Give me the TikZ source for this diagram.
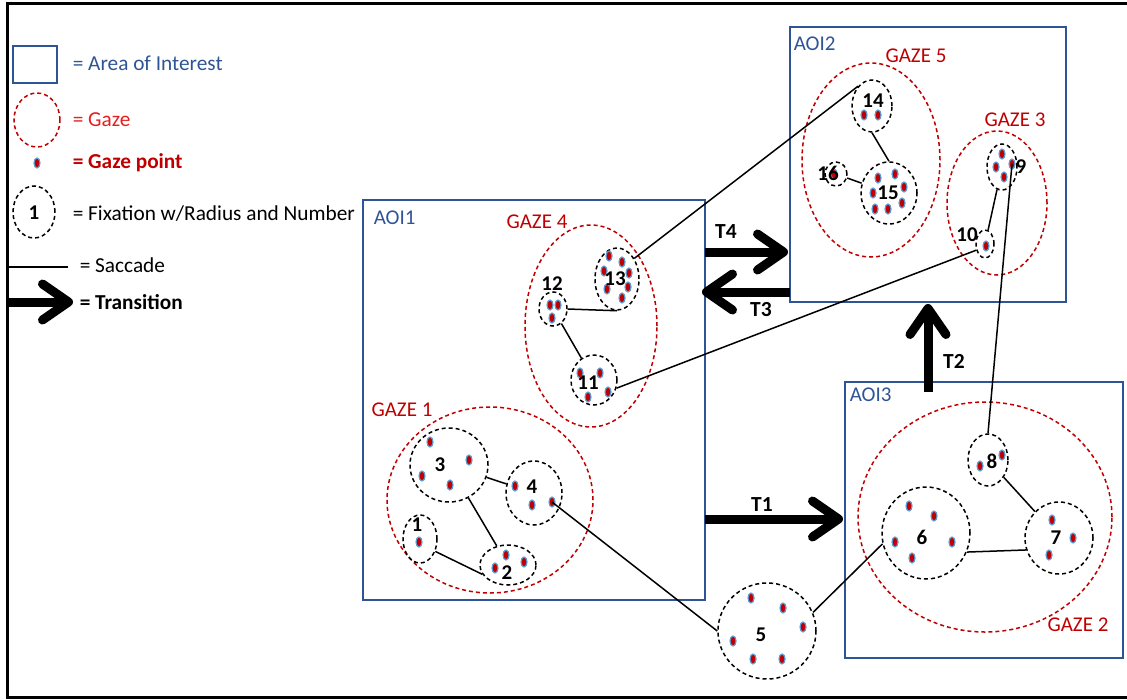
\documentclass[tikz,border=0pt]{standalone}
\usepackage{fontspec}
\setmainfont{Carlito}
\usetikzlibrary{shapes.geometric,arrows.meta}
\definecolor{aoiblue}{RGB}{47,84,150}
\definecolor{gazered}{RGB}{192,0,0}
\definecolor{gazebright}{RGB}{230,30,30}
\definecolor{ptblue}{RGB}{91,155,213}
\begin{document}
\begin{tikzpicture}[x=1pt, y=-1pt, line width=1.5pt,
aoi node/.style={rectangle,draw=aoiblue,line width=2pt,inner sep=0pt},
gaze node/.style={ellipse,draw=gazered,dash pattern=on 4pt off 3pt,inner sep=0pt},
fix node/.style={ellipse,draw,dash pattern=on 4pt off 3pt,inner sep=0pt},
point node/.style={ellipse,fill=gazered,draw=ptblue,line width=1.2pt,minimum width=6pt,minimum height=10pt,inner sep=0pt},
trans arrow/.style={line width=9pt,-{Straight Barb[length=26pt,width=36pt,line width=9pt,round]}},
leg text/.style={anchor=west,inner sep=0pt,font=\fontsize{21.3}{24}\selectfont},
aoi text/.style={anchor=west,inner sep=0pt,text=aoiblue,font=\fontsize{21}{24}\selectfont},
gaze text/.style={inner sep=0pt,text=gazered,font=\fontsize{21}{24}\selectfont},
num text/.style={inner sep=0pt,font=\fontsize{21}{24}\selectfont\bfseries},
t text/.style={inner sep=0pt,font=\fontsize{21.5}{24}\selectfont\bfseries}]
\useasboundingbox (0,0) rectangle (1127,699);
\draw[line width=3pt] (1127,3) -| (7,697) -- (1127,697);

% legend
\node[aoi node,minimum width=44,minimum height=37] (lg aoi) at (35,64.5) {};
\node[gaze node,minimum width=46,minimum height=54] (lg gaze) at (37,120) {};
\node[point node] (lg point) at (37,163) {};
\node[fix node,minimum width=42,minimum height=52] (lg fix) at (34,212) {};
\node[num text] at (34,213) {1};
\coordinate (lg s1) at (7,267);
\coordinate (lg s2) at (68,267);
\coordinate (lg t1) at (7,302);
\coordinate (lg t2) at (73,302);
\draw (lg s1) -- (lg s2);
\draw[trans arrow] (lg t1) -- (lg t2);
\node[leg text,text=aoiblue] at (72,63) {= Area of Interest};
\node[leg text,text=gazebright] at (72,120) {= Gaze};
\node[leg text,text=gazered,font=\fontsize{21.3}{24}\selectfont\bfseries] at (72,163) {= Gaze point};
\node[leg text] at (72,214) {= Fixation w/Radius and Number};
\node[leg text] at (79,265) {= Saccade};
\node[leg text,font=\fontsize{21.3}{24}\selectfont\bfseries] at (79,302) {= Transition};

% areas of interest
\node[aoi node,minimum width=342,minimum height=400] (aoi1) at (534,400) {};
\node[aoi node,minimum width=276,minimum height=275] (aoi2) at (928,164.5) {};
\node[aoi node,minimum width=278,minimum height=276] (aoi3) at (984,520) {};
\node[aoi text] at (373,218) {AOI1};
\node[aoi text] at (793,44) {AOI2};
\node[aoi text] at (849,395) {AOI3};

% transitions
\coordinate (t1a) at (705,519);
\coordinate (t1b) at (843,519);
\coordinate (t2a) at (928,392);
\coordinate (t2b) at (928,304);
\coordinate (t3a) at (790,292);
\coordinate (t3b) at (702,292);
\coordinate (t4a) at (705,252);
\coordinate (t4b) at (788,252);
\draw[trans arrow] (t1a) -- (t1b);
\draw[trans arrow] (t2a) -- (t2b);
\draw[trans arrow] (t3a) -- (t3b);
\draw[trans arrow] (t4a) -- (t4b);
\node[t text] at (762,505) {T1};
\node[t text] at (954,361) {T2};
\node[t text] at (761,310) {T3};
\node[t text] at (726,232) {T4};

% gazes
\node[gaze node,minimum width=206,minimum height=186] (g1) at (490,500) {};
\node[gaze node,minimum width=254,minimum height=230] (g2) at (985,517) {};
\node[gaze node,minimum width=100,minimum height=144] (g3) at (997,203) {};
\node[gaze node,minimum width=132,minimum height=202] (g4) at (591,326) {};
\node[gaze node,minimum width=138,minimum height=194] (g5) at (871,160) {};
\node[gaze text] at (402,410) {GAZE 1};
\node[gaze text] at (1078,625) {GAZE 2};
\node[gaze text] at (1015,120) {GAZE 3};
\node[gaze text] at (537,222) {GAZE 4};
\node[gaze text] at (916,56) {GAZE 5};

% fixations
\node[fix node,minimum width=34,minimum height=48] (f1) at (420,539) {};
\node[fix node,minimum width=56,minimum height=40] (f2) at (508,565) {};
\node[fix node,minimum width=78,minimum height=74] (f3) at (449,465) {};
\node[fix node,minimum width=56,minimum height=64] (f4) at (534,493) {};
\node[fix node,minimum width=98,minimum height=96] (f5) at (767,631) {};
\node[fix node,minimum width=88,minimum height=92] (f6) at (926,533) {};
\node[fix node,minimum width=68,minimum height=72] (f7) at (1059,538) {};
\node[fix node,minimum width=40,minimum height=52] (f8) at (988,460) {};
\node[fix node,minimum width=30,minimum height=46] (f9) at (1002,167) {};
\node[fix node,minimum width=18,minimum height=28] (f10) at (985,244) {};
\node[fix node,minimum width=46,minimum height=50] (f11) at (594,380) {};
\node[fix node,minimum width=28,minimum height=34] (f12) at (553,309) {};
\node[fix node,minimum width=44,minimum height=62] (f13) at (617,279) {};
\node[fix node,minimum width=40,minimum height=52] (f14) at (872,106) {};
\node[fix node,minimum width=56,minimum height=62] (f15) at (889,193) {};
\node[fix node,minimum width=22,minimum height=24] (f16) at (836,174) {};

% gaze points
\foreach \p in {(419,542),(506,555),(524,562),(495,568),(430,442),(469,460),(422,476),(450,485),
  (515,486),(532,505),(751,598),(783,608),(803,627),(733,641),(753,659),(782,659),
  (909,506),(934,516),(895,542),(952,542),(912,558),(1052,520),(1073,538),(1049,555),
  (980,466),(1002,455),(1002,154),(996,167),(1004,177),(986,246),
  (580,373),(600,373),(608,392),(588,397),(550,305),(558,305),(552,318),
  (609,256),(622,262),(604,271),(629,273),(628,287),(607,289),(622,298),
  (864,115),(878,115),(878,178),(895,174),(904,187),(873,193),(902,203),(875,209),(888,209),
  (834,174)}
  \node[point node] at \p {};
\node[point node] (d4c) at (552,502) {};
\node[point node] (d9c) at (1012,164) {};

% saccades
\draw (f1.-39) -- (f2.200);
\draw (f3) -- (f2);
\draw (f3) -- (f4);
\draw (d4c.center) -- (f5.west);
\draw (f5.22) -- (f6.194);
\draw (f6.-25) -- (f7.-160);
\draw (f8) -- (f7);
\draw (f8.north) -- (d9c.center);
\draw (f9) -- (f10);
\draw (f10.215) -- (f11.-20);
\draw (f11) -- (f12);
\draw (f12.east) -- (f13.south);
\draw (f13.50) -- (f14.125);
\draw (f14.south) -- (f15.north);
\draw (f16) -- (f15);

% numbers
\node[num text] at (417,525) {1};
\node[num text] at (507,573) {2};
\node[num text] at (440,465) {3};
\node[num text] at (532,487) {4};
\node[num text] at (761,635) {5};
\node[num text] at (922,537) {6};
\node[num text] at (1056,538) {7};
\node[num text] at (992,461) {8};
\node[num text] at (1021,167) {9};
\node[num text] at (967,235) {10};
\node[num text] at (588,383) {11};
\node[num text] at (552,284) {12};
\node[num text] at (615,279) {13};
\node[num text] at (873,101) {14};
\node[num text] at (888,193) {15};
\node[num text] at (828,173) {16};
\end{tikzpicture}
\end{document}
